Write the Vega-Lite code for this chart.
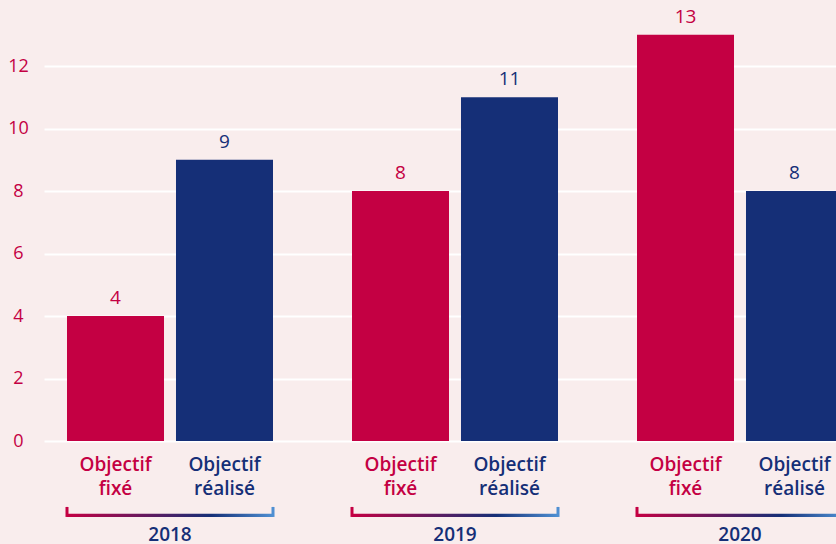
{
  "$schema": "https://vega.github.io/schema/vega-lite/v6.json",
  "width": 792,
  "height": 441,
  "autosize": {"type": "none"},
  "padding": {"left": 44, "top": 0, "right": 0, "bottom": 103},
  "background": "#f9eded",
  "config": {
    "view": {"stroke": null},
    "font": "Open Sans"
  },
  "data": {
    "values": [
      {"annee": "2018", "type": "Objectif fixé", "label": "Objectif\nfixé", "valeur": 4},
      {"annee": "2018", "type": "Objectif réalisé", "label": "Objectif\nréalisé", "valeur": 9},
      {"annee": "2019", "type": "Objectif fixé", "label": "Objectif\nfixé", "valeur": 8},
      {"annee": "2019", "type": "Objectif réalisé", "label": "Objectif\nréalisé", "valeur": 11},
      {"annee": "2020", "type": "Objectif fixé", "label": "Objectif\nfixé", "valeur": 13},
      {"annee": "2020", "type": "Objectif réalisé", "label": "Objectif\nréalisé", "valeur": 8}
    ]
  },
  "encoding": {
    "x": {
      "field": "annee", "type": "nominal",
      "scale": {"type": "band", "range": [0, 822], "paddingInner": 0.2772, "paddingOuter": 0.0807},
      "axis": null
    }
  },
  "layer": [
    {
      "mark": {"type": "bar"},
      "encoding": {
        "xOffset": {"field": "type", "type": "nominal", "scale": {"paddingInner": 0.11, "paddingOuter": 0}},
        "y": {
          "field": "valeur", "type": "quantitative",
          "scale": {"domain": [0, 14.112], "nice": false, "zero": true},
          "axis": {
            "title": null, "values": [0, 2, 4, 6, 8, 10, 12],
            "grid": true, "gridColor": "#ffffff", "gridWidth": 2, "gridOpacity": 1,
            "domain": false, "ticks": false, "tickSize": 0,
            "labelColor": "#c40043", "labelFontSize": 18, "labelFontWeight": 500,
            "labelAlign": "center", "labelPadding": 26, "labelBaseline": "middle"
          }
        },
        "color": {
          "field": "type", "type": "nominal",
          "scale": {"domain": ["Objectif fixé", "Objectif réalisé"], "range": ["#c40043", "#152f77"]},
          "legend": null
        }
      }
    },
    {
      "mark": {"type": "text", "baseline": "alphabetic", "dy": -12, "fontSize": 19, "fontWeight": 500},
      "encoding": {
        "xOffset": {"field": "type", "type": "nominal"},
        "y": {"field": "valeur", "type": "quantitative"},
        "text": {"field": "valeur", "type": "quantitative"},
        "color": {"field": "type", "type": "nominal"}
      }
    },
    {
      "mark": {"type": "text", "baseline": "middle", "lineBreak": "\n", "lineHeight": 24, "fontSize": 19, "fontWeight": 600},
      "encoding": {
        "xOffset": {"field": "type", "type": "nominal"},
        "y": {"datum": -0.77},
        "text": {"field": "label", "type": "nominal"},
        "color": {"field": "type", "type": "nominal"}
      }
    },
    {
      "transform": [{"filter": "datum.type === 'Objectif fixé'"}],
      "mark": {
        "type": "bar",
        "fill": {
          "gradient": "linear", "x1": 0, "x2": 1, "y1": 0, "y2": 0,
          "stops": [
            {"offset": 0, "color": "#c40043"},
            {"offset": 0.7, "color": "#152f77"},
            {"offset": 1, "color": "#4f8fd2"}
          ]
        }
      },
      "encoding": {
        "y": {"datum": -2.33},
        "y2": {"datum": -2.43}
      }
    },
    {
      "transform": [{"filter": "datum.type === 'Objectif fixé'"}],
      "mark": {"type": "rule", "strokeWidth": 3, "color": "#c40043"},
      "encoding": {
        "x": {"field": "annee", "type": "nominal", "bandPosition": 0},
        "y": {"datum": -2.11},
        "y2": {"datum": -2.43}
      }
    },
    {
      "transform": [{"filter": "datum.type === 'Objectif fixé'"}],
      "mark": {"type": "rule", "strokeWidth": 3, "color": "#4f8fd2"},
      "encoding": {
        "x": {"field": "annee", "type": "nominal", "bandPosition": 1},
        "y": {"datum": -2.11},
        "y2": {"datum": -2.43}
      }
    },
    {
      "transform": [{"filter": "datum.type === 'Objectif fixé'"}],
      "mark": {"type": "text", "baseline": "middle", "fontSize": 19, "fontWeight": 600, "color": "#152f77"},
      "encoding": {
        "y": {"datum": -3.0},
        "text": {"field": "annee", "type": "nominal"}
      }
    }
  ]
}
